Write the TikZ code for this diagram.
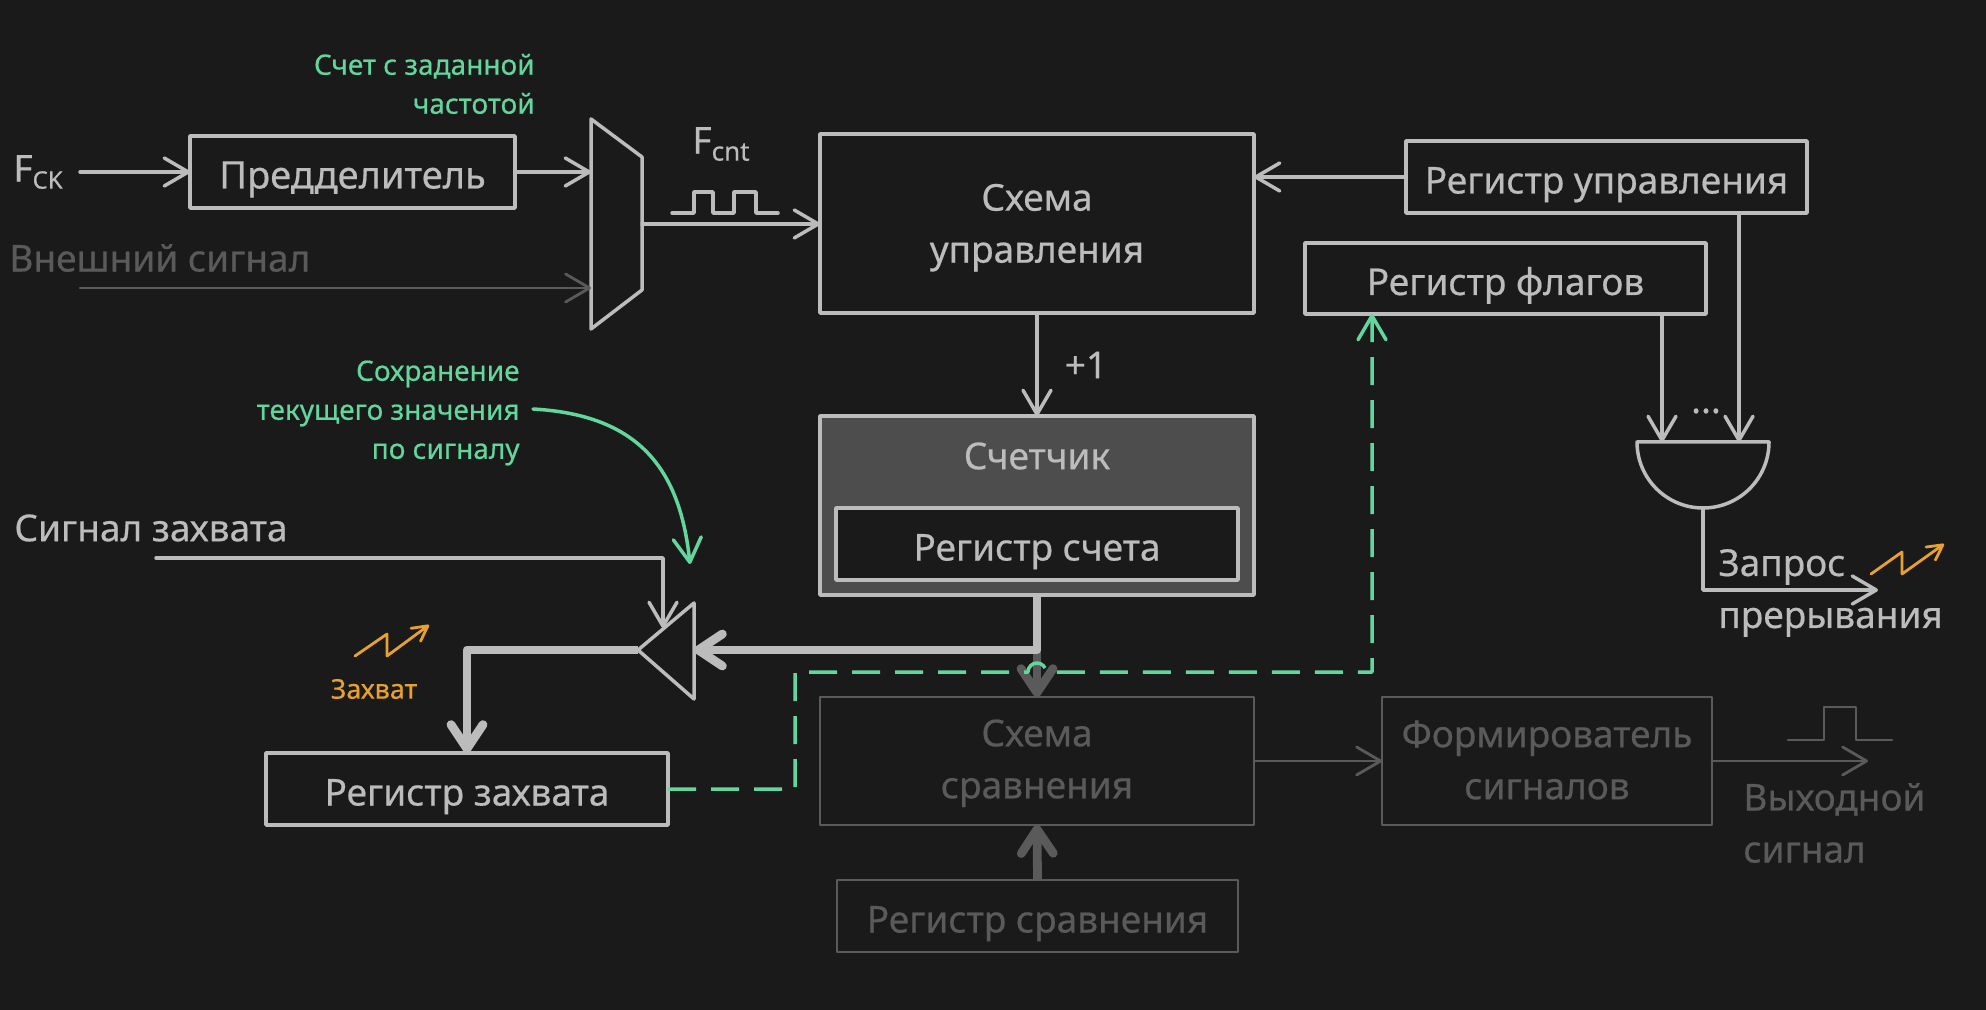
\documentclass[tikz,border=0pt]{standalone}
\usepackage{fontspec}
\setmainfont{Noto Sans}[FakeBold=0.5]
\usetikzlibrary{arrows.meta}
\definecolor{bgcol}{HTML}{1A1A1A}
\definecolor{lite}{HTML}{BCBCBC}
\definecolor{dimcol}{HTML}{5A5A5A}
\definecolor{mint}{HTML}{62D69C}
\definecolor{amber}{HTML}{E8A02F}
\definecolor{cntfill}{HTML}{4D4D4D}
\begin{document}
\begin{tikzpicture}[line cap=round, line join=round, x=0.5pt, y=-0.5pt, >={Straight Barb[length=12pt,width=14pt,round]}]
	\tikzset{boxmain/.style={draw=lite, line width=1.75pt, text=lite, inner sep=0pt, outer sep=0pt, align=center, font=\fontsize{18.5}{26}\selectfont},
		boxdim/.style={boxmain, draw=dimcol, line width=1.4pt, text=dimcol},
		oneline/.style={text height=16.5pt, text depth=0pt},
		txtmain/.style={text=lite, inner sep=0pt, font=\fontsize{18.5}{26}\selectfont},
		txtdim/.style={txtmain, text=dimcol},
		txtmint/.style={text=mint, inner sep=0pt, align=right, font=\fontsize{14}{19.5}\selectfont},
		wire/.style={draw=lite, line width=1.75pt},
		wiredim/.style={draw=dimcol, line width=1.4pt},
		bus/.style={draw=lite, line width=4.4pt, line cap=butt, >={Straight Barb[length=12pt,width=16pt,round]}},
		busdim/.style={bus, draw=dimcol},
		zap/.style={draw=amber, line width=1.4pt, >={Straight Barb[length=7.5pt,width=8pt,round]}}}
	\fill[bgcol] (0,0) rectangle (1986,1010);
	\useasboundingbox (0,0) rectangle (1986,1010);
	% blocks
	\node[boxmain, oneline, font=\fontsize{19}{26}\selectfont, minimum width=162.5pt, minimum height=36pt] (presc) at (352.5,172) {Предделитель};
	\node[boxmain, minimum width=217pt, minimum height=89.5pt] (ctrl) at (1037,223.5) {\rule{0pt}{17.6pt}Схема\\управления};
	\node[boxmain, oneline, minimum width=200.5pt, minimum height=36pt] (regctrl) at (1606.5,177) {Регистр управления};
	\node[boxmain, oneline, minimum width=200.5pt, minimum height=35.5pt] (regflag) at (1505.5,278.5) {Регистр флагов};
	\node[boxmain, fill=cntfill, minimum width=217pt, minimum height=89.5pt] (counter) at (1037,505.5) {};
	\node[txtmain] (countertxt) at (1037,456) {Счетчик};
	\node[boxmain, oneline, fill=bgcol, minimum width=201pt, minimum height=36pt] (regcount) at (1037,544) {Регистр счета};
	\node[boxmain, oneline, minimum width=201pt, minimum height=36pt] (regcap) at (467,789) {Регистр захвата};
	\node[boxdim, minimum width=217pt, minimum height=64pt] (cmp) at (1037,761) {\rule{0pt}{15.7pt}Схема\\сравнения};
	\node[boxdim, minimum width=165pt, minimum height=64pt] (shaper) at (1547,761) {Формирователь\\сигналов\rule[-1.2pt]{0pt}{0pt}};
	\node[boxdim, oneline, minimum width=200.5pt, minimum height=36pt] (regcmp) at (1037.5,916) {Регистр сравнения};
	% mux, buffer, gate
	\coordinate (muxa) at (591,172);
	\coordinate (muxb) at (591,288);
	\coordinate (muxout) at (642,224);
	\draw[wire] (591,119) -- (642,157) -- (642,290) -- (591,329) -- cycle;
	\coordinate (bufin) at (694,650);
	\coordinate (bufout) at (638,650);
	\coordinate (bufen) at (663,628);
	\draw[wire] (638,650) -- (694,603) -- (694,699) -- cycle;
	\coordinate (gatea) at (1662,442);
	\coordinate (gateb) at (1739,442);
	\coordinate (gateout) at (1703,508);
	\draw[wire] (1637,442) -- (1769,442) arc[start angle=0, end angle=-180, radius=33pt] -- cycle;
	% labels
	\node[txtmain, anchor=west] (fck) at (13,172) {F{\raisebox{-3.5pt}{\fontsize{12}{12}\selectfont CK}}};
	\node[txtdim, anchor=west] (extsig) at (9,258) {Внешний сигнал};
	\node[txtmain] (fcnt) at (721,144) {F{\raisebox{-3.5pt}{\fontsize{13}{13}\selectfont cnt}}};
	\node[txtmint, anchor=east] (cntnote) at (535,84) {Счет с заданной\\частотой};
	\node[txtmint, anchor=east] (savenote) at (520,413) {Сохранение\\текущего значения\\по сигналу};
	\node[txtmain] (plusone) at (1086,365) {+1};
	\node[txtmain, anchor=west] (capsig) at (14,528) {Сигнал захвата};
	\node[text=amber, inner sep=0pt, font=\fontsize{13.5}{19.5}\selectfont] (capnote) at (374,689) {Захват};
	\node[txtmain] (dots) at (1706,411) {...};
	\node[txtmain, anchor=west, align=left] (irq) at (1718,593) {Запрос\\прерывания};
	\node[txtdim, anchor=west, align=left] (outsig) at (1743,823) {Выходной\\сигнал};
	% pulses
	\draw[wire] (672,213) -- (694,213) -- (694,192) -- (713,192) -- (713,213) -- (734,213) -- (734,192) -- (756,192) -- (756,213) -- (778,213);
	\draw[wiredim] (1788,740) -- (1824,740) -- (1824,707) -- (1856,707) -- (1856,740) -- (1892,740);
	% connectors
	\coordinate (fckin) at (80,172);
	\coordinate (extin) at (80,288);
	\coordinate (capin) at (156,558);
	\coordinate (irqout) at (1878,590);
	\coordinate (outend) at (1868,761);
	\draw[wire,->] (fckin) -- (presc.west);
	\draw[wire,->] (presc.east) -- (muxa);
	\draw[wiredim,->] (extin) -- (muxb);
	\draw[wire,->] (muxout) -- (muxout -| ctrl.west);
	\draw[wire,->] (regctrl.west) -- (regctrl.west -| ctrl.east);
	\draw[wire,->] (ctrl.south) -- (counter.north);
	\draw[wire,->] (gatea |- regflag.south) -- (gatea);
	\draw[wire,->] (gateb |- regctrl.south) -- (gateb);
	\draw[wire,->] (gateout) |- (irqout);
	\draw[wire,->] (capin) -| (bufen);
	\draw[busdim,->] (counter.south |- bufin) -- (cmp.north);
	\draw[bus,->] (counter.south) |- (bufin);
	\draw[bus,->] (bufout) -| (regcap.north);
	\draw[busdim,->] (regcmp.north) -- (cmp.south);
	\draw[wiredim,->] (cmp.east) -- (shaper.west);
	\draw[wiredim,->] (shaper.east) -- (outend);
	% capture flag path
	\coordinate (flagturn) at (795,672);
	\coordinate (hopin) at (1028,672);
	\coordinate (flagup) at (1372,672);
	\coordinate (flagin) at (1372,314);
	\draw[mint, line width=1.75pt, line cap=butt, dash pattern=on 14pt off 7.5pt, ->, >={Straight Barb[length=12pt,width=14pt,round]}] (regcap.east) -| (flagturn) -- (hopin) arc[start angle=180, end angle=0, radius=4.5pt] -- (flagup) -- (flagin);
	\coordinate (savea) at (533,409);
	\coordinate (saveb) at (690,564);
	\draw[mint, line width=1.75pt, ->] (savea) .. controls (640,415) and (680,470) .. (saveb);
	% interrupt marks
	\coordinate (zapa) at (355,656);
	\coordinate (zapb) at (429,625);
	\draw[zap,->] (zapa) -- (387,634) -- (387,656) -- (zapb);
	\coordinate (zapc) at (1871,574);
	\coordinate (zapd) at (1944,544);
	\draw[zap,->] (zapc) -- (1902,552) -- (1902,574) -- (zapd);
\end{tikzpicture}
\end{document}
